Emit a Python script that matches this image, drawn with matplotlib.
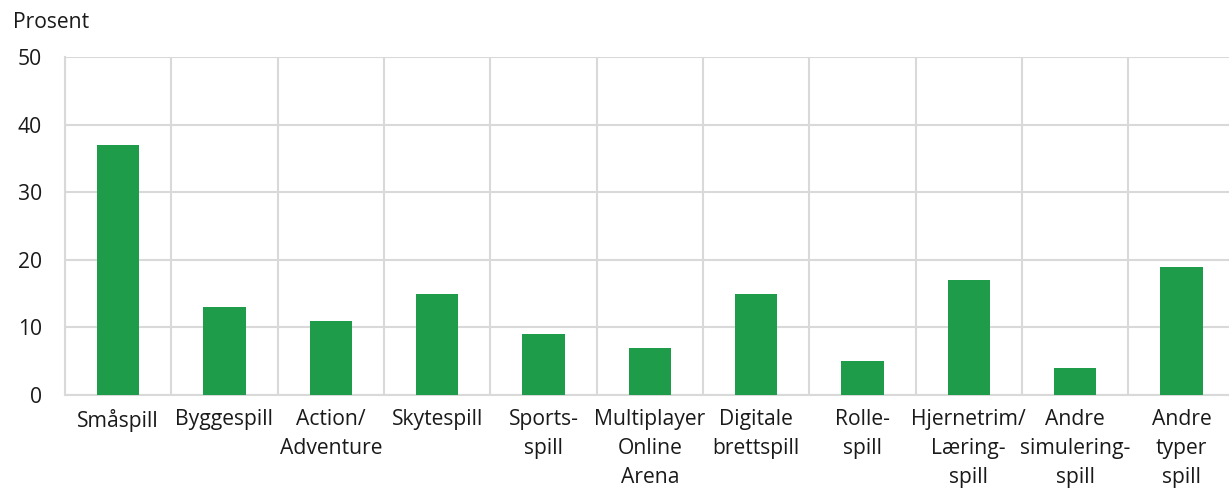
import matplotlib
matplotlib.use("Agg")
import matplotlib.pyplot as plt
import numpy as np

categories = ["Småspill", "Byggespill", "Action/\nAdventure", "Skytespill", "Sports-\nspill",
              "Multiplayer\nOnline\nArena", "Digitale\nbrettspill", "Rolle-\nspill",
              "Hjernetrim/\nLæring-\nspill", "Andre\nsimulering-\nspill", "Andre\ntyper\nspill"]
values = [37, 13, 11, 15, 9, 7, 15, 5, 17, 4, 19]
yticks = [0, 10, 20, 30, 40, 50]
ylabel = "Prosent"

plt.rcParams['font.family'] = ['Open Sans', 'DejaVu Sans']

W, H = 1229, 501
fig = plt.figure(figsize=(W/100, H/100), dpi=100)
left, right, top, bottom = 65, 1234.6, 57, 395
ax = fig.add_axes([left/W, 1-bottom/H, (right-left)/W, (bottom-top)/H])

grid_c = "#d9d9d9"
fs = 15.2
x = np.arange(len(categories))
ax.bar(x, values, width=0.4, color="#1e9c4a", zorder=3)
ax.set_xlim(-0.5, len(categories)-0.5)
ax.set_ylim(0, 50)
ax.set_yticks(yticks)
ax.set_yticklabels([str(v) for v in yticks], fontsize=fs, color="#1a1a1a")
ax.set_xticks(x)
ax.set_xticklabels(categories, fontsize=fs, color="#1a1a1a", linespacing=1.5)
ax.set_xticks(np.arange(len(categories)) - 0.5, minor=True)
ax.tick_params(axis='both', which='both', length=0)
ax.tick_params(axis='y', pad=16.5)
ax.tick_params(axis='x', pad=10)
ax.grid(axis='y', which='major', color=grid_c, linewidth=1.5, zorder=0)
ax.grid(axis='x', which='minor', color=grid_c, linewidth=1.5, zorder=0)
for s in ["top", "right"]:
    ax.spines[s].set_visible(False)
for s in ["left", "bottom"]:
    ax.spines[s].set_color(grid_c)
    ax.spines[s].set_linewidth(1.5)
    ax.spines[s].set_zorder(1)

fig.text(13/W, 1-22/H, ylabel, fontsize=fs, color="#1a1a1a", ha="left", va="center")

fig.savefig("out.png", dpi=100)
